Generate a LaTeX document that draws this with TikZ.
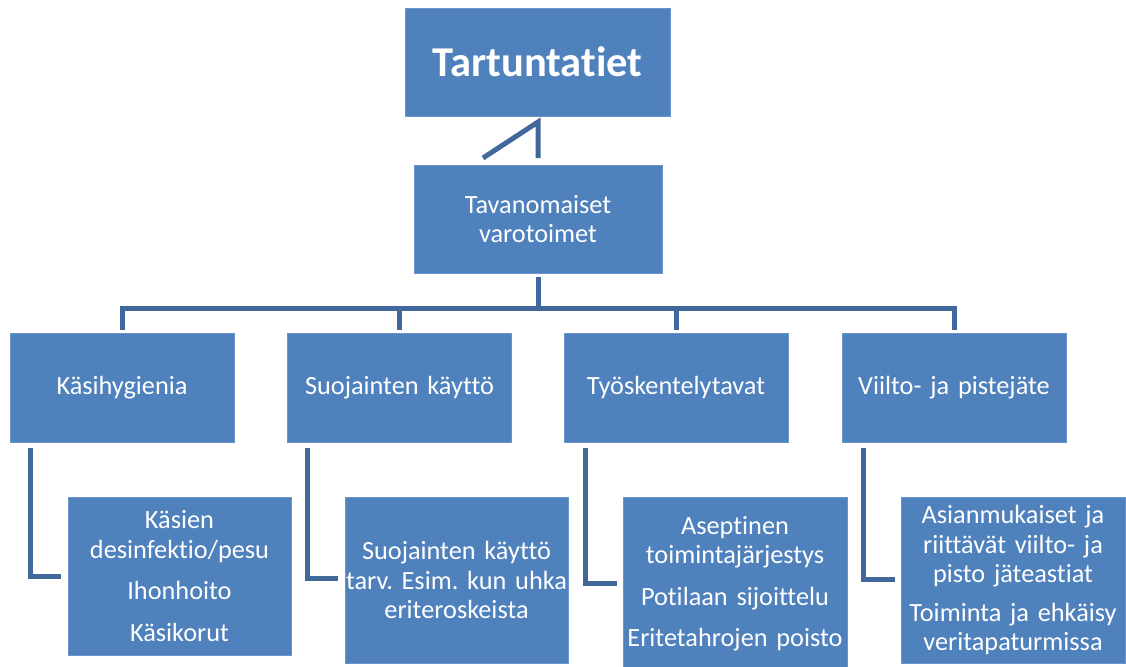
\documentclass[tikz,border=0pt]{standalone}
\usepackage{fontspec}
\setmainfont{Carlito}[Ligatures={NoCommon}]
\frenchspacing
\definecolor{boxblue}{HTML}{4F81BD}
\definecolor{boxedge}{HTML}{6B95C8}
\definecolor{linkblue}{HTML}{41689A}
\tikzset{
  box/.style={rectangle, fill=boxblue, draw=boxedge, line width=0.8pt, inner sep=0pt, outer sep=0pt,
    text=white, align=center, font=\fontsize{26.3}{29.5}\selectfont},
  topbox/.style={box, font=\fontsize{42.5}{50}\selectfont\bfseries},
  link/.style={draw=linkblue, line width=5pt, line join=miter, line cap=butt}
}
\begin{document}
\begin{tikzpicture}[x=1pt,y=-1pt]
\useasboundingbox (0,0) rectangle (1126,666);
\clip (0,0) rectangle (1126,666);
% boxes
\node[topbox, minimum width=265, minimum height=108] (top) at (537.5,62) {Tartuntatiet};
\node[box, minimum width=248, minimum height=108] (tav) at (538,219) {Tavanomaiset\\varotoimet};
\node[box, minimum width=224, minimum height=109, text width=224] (k1) at (122,387.5) {Käsihygienia};
\node[box, minimum width=224, minimum height=109, text width=224] (k2) at (399.5,387.5) {Suojainten käyttö};
\node[box, minimum width=224, minimum height=109, text width=224] (k3) at (676,387.5) {Työskentelytavat};
\node[box, minimum width=224, minimum height=109, text width=224] (k4) at (954,387.5) {Viilto- ja pistejäte};
\node[box, minimum width=223, minimum height=158, text width=223] (c1) at (179.5,576) {Käsien\\desinfektio/pesu\\[12pt]Ihonhoito\\[12pt]Käsikorut};
\node[box, minimum width=223, minimum height=166, text width=223] (c2) at (456.5,580) {Suojainten käyttö\\tarv. Esim. kun uhka\\eriteroskeista};
\node[box, minimum width=224, minimum height=173, text width=224] (c3) at (735,583.5) {Aseptinen\\toimintajärjestys\\[12pt]Potilaan sijoittelu\\[12pt]Eritetahrojen poisto};
\node[box, minimum width=224, minimum height=166, text width=224] (c4) at (1013,580) {Asianmukaiset ja\\riittävät viilto- ja\\pisto jäteastiat\\[9pt]Toiminta ja ehkäisy\\veritapaturmissa};
% connector top
\coordinate (ta) at (538,122);
\coordinate (tb) at (538,158);
\coordinate (tc) at (483,158);
\draw[link] (tc) -- (ta) -- (tb);
% bar
\coordinate (bar) at (538,308);
\draw[link] (tav.south |- 0,277) -- (bar);
\draw[link] (k1.north |- 0,330) -- (k1.north |- bar) -- (k4.north |- bar) -- (k4.north |- 0,330);
\draw[link] (k2.north |- bar) -- (k2.north |- 0,330);
\draw[link] (k3.north |- bar) -- (k3.north |- 0,330);
% child connectors
\coordinate (d1) at (30,448);  \coordinate (e1) at (30,576);
\coordinate (d2) at (307,448); \coordinate (e2) at (307,578);
\coordinate (d3) at (585,448); \coordinate (e3) at (585,583);
\coordinate (d4) at (863,448); \coordinate (e4) at (863,579);
\draw[link] (d1) -- (e1) -- (61,576);
\draw[link] (d2) -- (e2) -- (338,578);
\draw[link] (d3) -- (e3) -- (617,583);
\draw[link] (d4) -- (e4) -- (895,579);
\end{tikzpicture}
\end{document}
